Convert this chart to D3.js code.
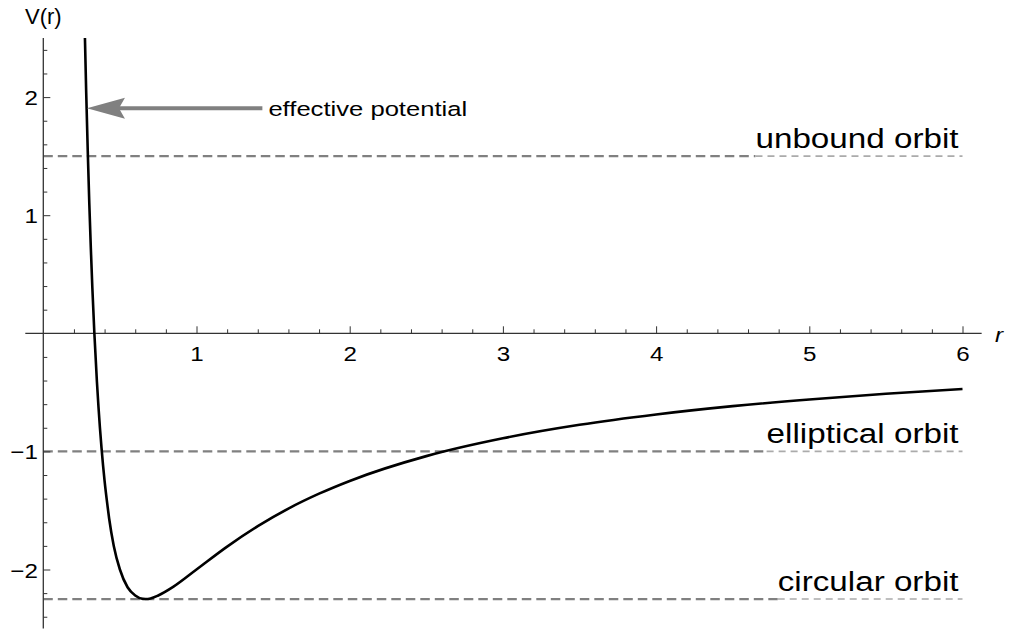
<!DOCTYPE html>
<html><head><meta charset="utf-8">
<script src="https://cdn.jsdelivr.net/npm/d3@7"></script>
<style>body{margin:0;background:#fff} text{font-family:"Liberation Sans",Arial,sans-serif;fill:#000}</style>
</head><body><svg id="c" width="1015" height="633"></svg>
<script>
// Curve samples (r, V(r))
const rValues = [0.2718,0.28,0.29,0.30,0.31,0.32,0.3333,0.35,0.36,0.38,0.40,0.42,0.43,0.46,0.50,0.55,0.60,0.65,0.667,0.70,0.75,0.85,1.0,1.2,1.4,1.6,1.8,2.0,2.5,3.0,3.5,4.0,4.5,5.0,5.5,6.0];
const vValues = [2.50,2.04,1.55,1.11,0.73,0.39,0.00,-0.41,-0.62,-0.97,-1.25,-1.47,-1.57,-1.80,-2.00,-2.15,-2.22,-2.249,-2.25,-2.245,-2.22,-2.145,-2.00,-1.806,-1.633,-1.484,-1.358,-1.25,-1.04,-0.889,-0.775,-0.6875,-0.617,-0.56,-0.512,-0.472];
const xTicks = [1,2,3,4,5,6];
const yTicks = [-2,-1,1,2];
const xDomain = [0,6];
const yDomain = [0,2];
const xAxisExtent = [-0.1175, 6.125];
const yAxisExtent = [-2.5, 2.5];
const orbitLevels = [1.5, -1, -2.25];
const orbitLabels = ["unbound orbit", "elliptical orbit", "circular orbit"];
const arrowTip = [0.285, 1.905];
const arrowTail = [1.43, 1.905];
const annotationText = "effective potential";
const xLabel = "r";
const yLabel = "V(r)";

const svg = d3.select("#c");
const x = d3.scaleLinear().domain(xDomain).range([43.3, 962.5]);
const y = d3.scaleLinear().domain(yDomain).range([333.3, 97.1]);
const fmt = d3.format("d");

const AX = "#333";
function stretch(sel, s, tx, ty){
  sel.attr("x",0).attr("y",0).attr("transform",`translate(${tx},${ty}) scale(${s},1)`);
}

// orbit lines + labels
orbitLevels.forEach((lv,i)=>{
  const yy = y(lv);
  const xEnd = x(6);
  const t = svg.append("text").text(orbitLabels[i]).attr("font-size",27).attr("text-anchor","end");
  stretch(t, 1.23, xEnd-4, yy-8);
  const w = t.node().getComputedTextLength()*1.23;
  const xStart = xEnd-4-w;
  svg.append("line").attr("x1",x(0)).attr("x2",xStart).attr("y1",yy).attr("y2",yy)
    .attr("stroke","#808080").attr("stroke-width",2.2).attr("stroke-dasharray","9.5,5");
  svg.append("line").attr("x1",xStart).attr("x2",xEnd).attr("y1",yy).attr("y2",yy)
    .attr("stroke","#ababab").attr("stroke-width",1.6).attr("stroke-dasharray","7,5");
});

// axes lines
svg.append("line").attr("x1",x(xAxisExtent[0])).attr("x2",x(xAxisExtent[1]))
  .attr("y1",y(0)).attr("y2",y(0)).attr("stroke",AX).attr("stroke-width",1.3);
svg.append("line").attr("x1",x(0)).attr("x2",x(0))
  .attr("y1",y(yAxisExtent[1])).attr("y2",y(yAxisExtent[0])).attr("stroke",AX).attr("stroke-width",1.3);

// x minor ticks
const xMinorAll = d3.range(0, 61).map(i=>i/10).filter(v=>Math.abs(v*5-Math.round(v*5))<1e-6 && v%1!==0);
const gxm = svg.append("g").attr("transform",`translate(0,${y(0)})`)
  .call(d3.axisBottom(x).tickValues(xMinorAll).tickSizeInner(-4).tickSizeOuter(0).tickFormat(""));
gxm.select(".domain").remove();
gxm.selectAll("line").attr("stroke",AX);
const gx = svg.append("g").attr("transform",`translate(0,${y(0)})`)
  .call(d3.axisBottom(x).tickValues(xTicks).tickFormat(fmt).tickSizeInner(-7).tickSizeOuter(0).tickPadding(13));
gx.select(".domain").remove();
gx.selectAll("line").attr("stroke",AX);
gx.selectAll("text").attr("font-size",21).attr("font-family","Liberation Sans, Arial, sans-serif").attr("fill","#000")
  .each(function(){ const s=d3.select(this); s.attr("dy",null); stretch(s,1.15,0,28); });

// y minor ticks
const yMinorAll = d3.range(-12, 13).map(i=>i/5).filter(v=>v%1!==0);
const gym = svg.append("g").attr("transform",`translate(${x(0)},0)`)
  .call(d3.axisLeft(y).tickValues(yMinorAll).tickSizeInner(-4).tickSizeOuter(0).tickFormat(""));
gym.select(".domain").remove();
gym.selectAll("line").attr("stroke",AX);
const gy = svg.append("g").attr("transform",`translate(${x(0)},0)`)
  .call(d3.axisLeft(y).tickValues(yTicks).tickFormat(fmt).tickSizeInner(-7).tickSizeOuter(0).tickPadding(6));
gy.select(".domain").remove();
gy.selectAll("line").attr("stroke",AX);
gy.selectAll("text").attr("font-size",21).attr("font-family","Liberation Sans, Arial, sans-serif").attr("fill","#000")
  .each(function(){ const s=d3.select(this); s.attr("dy",null); stretch(s,1.15,-5.5,7.5); });

// curve
const pts = rValues.map((r,i)=>[r, vValues[i]]);
svg.append("path").datum(pts)
  .attr("d", d3.line().x(d=>x(d[0])).y(d=>y(d[1])).curve(d3.curveMonotoneX))
  .attr("fill","none").attr("stroke","#000").attr("stroke-width",2.6);

// annotation arrow
const tipX = x(arrowTip[0]), tipY = y(arrowTip[1]);
svg.append("line").attr("x1",x(arrowTail[0])).attr("x2",tipX+30).attr("y1",tipY).attr("y2",tipY)
  .attr("stroke","#808080").attr("stroke-width",4);
svg.append("path")
  .attr("d",`M${tipX},${tipY} L${tipX+38},${tipY-10.5} L${tipX+32},${tipY} L${tipX+38},${tipY+10.5} Z`)
  .attr("fill","#808080");
const at = svg.append("text").text(annotationText).attr("font-size",20.5);
stretch(at, 1.25, x(arrowTail[0])+6, tipY+7.5);

// axis labels
const yl = svg.append("text").text(yLabel).attr("font-size",22);
stretch(yl, 1.0, 25, 24);
const xl = svg.append("text").text(xLabel).attr("font-size",21).attr("font-style","italic");
stretch(xl, 1.15, 995, 342);
</script></body></html>
